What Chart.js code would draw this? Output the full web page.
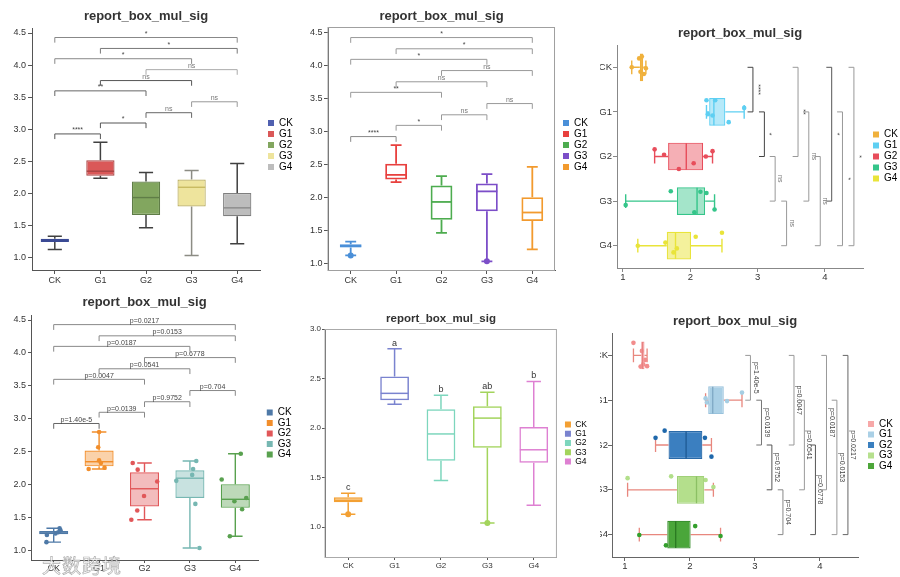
<!DOCTYPE html>
<html>
<head>
<meta charset="utf-8">
<script src="https://cdn.jsdelivr.net/npm/chart.js@4.4.1/dist/chart.umd.min.js"></script>
<style>
  body { margin: 0; background: #fff; width: 900px; height: 577px; overflow: hidden; position: relative; }
  .panel { position: absolute; }
  .watermark { position: absolute; left: 42px; top: 551px; font: 19px "Noto Sans CJK SC", sans-serif;
    color: rgba(255,255,255,0.8); -webkit-text-stroke: 0.7px rgba(110,110,110,0.55); letter-spacing: 1px; }
</style>
</head>
<body>
<div class="panel" style="left:0;top:0"><canvas id="c1" width="300" height="290"></canvas></div>
<div class="panel" style="left:300px;top:0"><canvas id="c2" width="300" height="290"></canvas></div>
<div class="panel" style="left:600px;top:0"><canvas id="c3" width="300" height="290"></canvas></div>
<div class="panel" style="left:0;top:290px"><canvas id="c4" width="300" height="287"></canvas></div>
<div class="panel" style="left:300px;top:290px"><canvas id="c5" width="300" height="287"></canvas></div>
<div class="panel" style="left:600px;top:290px"><canvas id="c6" width="300" height="287"></canvas></div>
<div class="watermark">大数跨境</div>
<script>
  // DATA
  const categories = ['CK', 'G1', 'G2', 'G3', 'G4'];
  // box statistics
  const whiskerLow = [1.13, 2.24, 1.47, 1.04, 1.22];
  const quartile1 = [1.25, 2.28, 1.67, 1.80, 1.65];
  const medians = [1.27, 2.35, 1.94, 2.10, 1.78];
  const quartile3 = [1.30, 2.52, 2.19, 2.22, 2.01];
  const whiskerHigh = [1.34, 2.80, 2.33, 2.36, 2.47];
  // raw samples, 6 per group
  const samplesCK = [1.13, 1.24, 1.26, 1.28, 1.31, 1.34];
  const samplesG1 = [2.24, 2.26, 2.33, 2.37, 2.57, 2.80];
  const samplesG2 = [1.47, 1.61, 1.83, 2.05, 2.23, 2.33];
  const samplesG3 = [1.04, 1.71, 2.06, 2.15, 2.24, 2.36];
  const samplesG4 = [1.22, 1.63, 1.75, 1.80, 2.08, 2.47];
  const outlierGroups = [0, 3];
  const outlierValues = [1.13, 1.04];
  // pairwise comparisons
  const pairs = [[0, 1], [1, 2], [2, 3], [3, 4], [0, 2], [1, 3], [2, 4], [0, 3], [1, 4], [0, 4]];
  const pairStars = ['****', '*', 'ns', 'ns', '**', 'ns', 'ns', '*', '*', '*'];
  const pairPValues = ['p=1.40e-5', 'p=0.0139', 'p=0.9752', 'p=0.704', 'p=0.0047', 'p=0.0541', 'p=0.6778', 'p=0.0187', 'p=0.0153', 'p=0.0217'];
  const bracketLevels = [2.93, 3.10, 3.26, 3.43, 3.60, 3.76, 3.93, 4.10, 4.26, 4.43];
  const bracketTip = 0.08;
  const groupLetters = ['c', 'a', 'b', 'ab', 'b'];
  // tick labels
  const ticksTall = [1.0, 1.5, 2.0, 2.5, 3.0, 3.5, 4.0, 4.5];
  const ticksShort = [1.0, 1.5, 2.0, 2.5, 3.0];
  const ticksHoriz = [1, 2, 3, 4];
  // jitter of the dots (category units), same order as the samples
  const jitterP3 = [[0, -0.2, 0.1, -0.24, 0.15, 0.02], [-0.26, 0.05, 0.08, -0.26, 0.23, -0.09], [-0.16, -0.04, 0.28, 0.15, 0, -0.12], [0.09, -0.22, 0.25, -0.21, -0.18, 0.19], [0, -0.07, 0.15, 0.06, -0.2, -0.29]];
  const jitterP4 = [[-0.16, -0.15, 0.04, 0.1, 0.15, 0.13], [-0.23, 0.12, 0.04, 0, -0.02, 0], [-0.29, -0.16, -0.01, 0.28, -0.15, -0.26], [0.21, 0.12, -0.3, 0.05, 0.07, 0.14], [-0.12, 0.15, -0.02, 0.24, -0.3, 0.12]];
  const jitterP6 = [[-0.28, 0.25, -0.1, 0.2, 0.1, 0.24], [-0.04, 0.05, 0.1, -0.05, 0.02, -0.17], [-0.16, -0.32, -0.04, 0.06, -0.16, 0.26], [-0.26, -0.3, -0.06, -0.23, -0.22, -0.06], [0.01, 0.24, -0.04, 0.09, -0.19, 0.03]];

  const sampleSets = [samplesCK, samplesG1, samplesG2, samplesG3, samplesG4];
  const FONT = '"Liberation Sans", Arial, Helvetica, sans-serif';
  Chart.defaults.font.family = FONT;

  function seg(ctx, horiz, p1, v1, p2, v2) {
    if (horiz) { ctx.moveTo(v1, p1); ctx.lineTo(v2, p2); }
    else { ctx.moveTo(p1, v1); ctx.lineTo(p2, v2); }
  }

  // whiskers, medians, brackets and letters, all placed through the chart scales
  function extrasFor(p) {
    const horiz = !!p.horizontal;
    return {
      id: 'boxExtras',
      beforeDatasetsDraw(chart) {
        const ctx = chart.ctx, a = chart.chartArea;
        const vs = chart.scales[horiz ? 'x' : 'y'];
        ctx.save();
        if (p.frame) {
          ctx.strokeStyle = p.frame; ctx.lineWidth = 1;
          ctx.strokeRect(a.left, a.top + 0.5, a.right - a.left - 0.5, a.bottom - a.top);
        }
        chart.getDatasetMeta(0).data.forEach((bar, i) => {
          const c = horiz ? bar.y : bar.x;
          const half = (horiz ? bar.height : bar.width) * 0.25;
          const lo = vs.getPixelForValue(whiskerLow[i]), q1 = vs.getPixelForValue(quartile1[i]);
          const q3 = vs.getPixelForValue(quartile3[i]), hi = vs.getPixelForValue(whiskerHigh[i]);
          ctx.strokeStyle = p.whisker[i]; ctx.lineWidth = p.whiskerWidth;
          ctx.beginPath();
          seg(ctx, horiz, c, lo, c, q1);
          seg(ctx, horiz, c, q3, c, hi);
          seg(ctx, horiz, c - half, lo, c + half, lo);
          seg(ctx, horiz, c - half, hi, c + half, hi);
          ctx.stroke();
        });
        ctx.restore();
      },
      afterDatasetDraw(chart, args) {
        if (args.index !== 0) return;
        const ctx = chart.ctx;
        const vs = chart.scales[horiz ? 'x' : 'y'];
        ctx.save();
        chart.getDatasetMeta(0).data.forEach((bar, i) => {
          const c = horiz ? bar.y : bar.x;
          const half = (horiz ? bar.height : bar.width) / 2 - 0.5;
          const m = vs.getPixelForValue(medians[i]);
          ctx.strokeStyle = p.median[i]; ctx.lineWidth = p.medianWidth;
          ctx.beginPath();
          seg(ctx, horiz, c - half, m, c + half, m);
          ctx.stroke();
        });
        ctx.restore();
      },
      afterDatasetsDraw(chart) {
        const ctx = chart.ctx;
        const vs = chart.scales[horiz ? 'x' : 'y'];
        const cs = chart.scales[horiz ? 'y' : 'x'];
        ctx.save();
        if (p.brackets) {
          ctx.font = p.bracketFont + 'px ' + FONT;
          pairs.forEach(([i, j], k) => {
            const ci = cs.getPixelForValue(i), cj = cs.getPixelForValue(j);
            const lv = vs.getPixelForValue(bracketLevels[k]);
            const tv = vs.getPixelForValue(bracketLevels[k] - bracketTip);
            ctx.strokeStyle = p.bracketColors[k]; ctx.lineWidth = 1;
            ctx.beginPath();
            seg(ctx, horiz, ci, tv, ci, lv);
            seg(ctx, horiz, ci, lv, cj, lv);
            seg(ctx, horiz, cj, lv, cj, tv);
            ctx.stroke();
            ctx.fillStyle = p.brackets[k] === 'ns' ? '#777' : '#444';
            ctx.textAlign = 'center'; ctx.textBaseline = 'bottom';
            if (horiz) {
              ctx.save();
              ctx.translate(lv + 1.5, (ci + cj) / 2);
              ctx.rotate(Math.PI / 2);
              ctx.fillText(p.brackets[k], 0, 0);
              ctx.restore();
            } else {
              ctx.fillText(p.brackets[k], (ci + cj) / 2, lv);
            }
          });
        }
        if (p.letters) {
          ctx.font = '9px ' + FONT; ctx.fillStyle = '#333';
          ctx.textAlign = 'center'; ctx.textBaseline = 'bottom';
          p.letters.forEach((t, i) => {
            ctx.fillText(t, cs.getPixelForValue(i), vs.getPixelForValue(whiskerHigh[i]) - 1);
          });
        }
        ctx.restore();
      }
    };
  }

  function dotData(jitter, horiz) {
    const pts = [];
    sampleSets.forEach((vals, g) => vals.forEach((v, k) => {
      pts.push(horiz ? {x: v, y: g + jitter[g][k]} : {x: g + jitter[g][k], y: v});
    }));
    return pts;
  }
  function dotColors(colors) {
    const out = [];
    sampleSets.forEach((vals, g) => vals.forEach(() => out.push(colors[g])));
    return out;
  }

  function makePanel(id, p) {
    const horiz = !!p.horizontal;
    const tickFont = {size: p.tickSize, family: FONT};
    const catScale = {
      type: 'category', labels: categories, offset: true,
      grid: {offset: false, drawOnChartArea: false, tickLength: p.tickLen, color: p.axis},
      border: {color: p.axis, width: 1},
      ticks: {font: tickFont, color: '#333', padding: p.catPad, autoSkip: false, maxRotation: 0}
    };
    const valScale = {
      type: 'linear', min: p.vMin, max: p.vMax, offset: false,
      grid: {offset: false, drawOnChartArea: false, tickLength: p.tickLen, color: p.axis},
      border: {color: p.axis, width: 1},
      ticks: {font: tickFont, color: '#333', padding: p.valPad, callback: v => horiz ? String(v) : v.toFixed(1)},
      afterBuildTicks: s => { s.ticks = p.vTicks.map(v => ({value: v})); }
    };
    // hidden axis used to spread the dots around each category
    const jitterScale = {type: 'linear', min: -0.5, max: 4.5, offset: false, display: false};
    let scales;
    if (horiz) {
      catScale.position = 'left';
      catScale.afterFit = s => { s.width = p.axisW; };
      valScale.position = 'bottom';
      valScale.afterFit = s => { s.height = p.axisH; };
      scales = {y: catScale, x: valScale, yj: Object.assign({axis: 'y', reverse: true}, jitterScale)};
    } else {
      catScale.position = 'bottom';
      catScale.afterFit = s => { s.height = p.axisH; };
      valScale.position = 'left';
      valScale.afterFit = s => { s.width = p.axisW; };
      scales = {x: catScale, y: valScale, xj: Object.assign({axis: 'x'}, jitterScale)};
    }
    scales.gap = {type: 'linear', position: 'right', axis: 'y', offset: false, grid: {display: false}, border: {display: false},
      ticks: {display: false}, afterFit: s => { s.width = p.gap; }};

    const datasets = [{
      type: 'bar',
      data: categories.map((c, i) => [quartile1[i], quartile3[i]]),
      backgroundColor: p.fill,
      borderColor: p.border,
      borderWidth: p.boxLine,
      borderSkipped: false,
      grouped: false,
      barPercentage: p.boxWidth,
      categoryPercentage: 1,
      xAxisID: 'x', yAxisID: 'y'
    }];
    if (p.jitter) {
      datasets.push({
        type: 'scatter',
        data: dotData(p.jitter, horiz),
        pointBackgroundColor: dotColors(p.dots),
        pointBorderWidth: 0,
        pointRadius: 2.3,
        xAxisID: horiz ? 'x' : 'xj', yAxisID: horiz ? 'yj' : 'y'
      });
    }
    if (p.outliers) {
      datasets.push({
        type: 'scatter',
        data: outlierGroups.map((g, k) => ({x: g, y: outlierValues[k]})),
        pointBackgroundColor: outlierGroups.map(g => p.border[g]),
        pointBorderWidth: 0,
        pointRadius: 3,
        xAxisID: 'xj', yAxisID: 'y'
      });
    }

    return new Chart(document.getElementById(id), {
      type: 'bar',
      data: {labels: categories, datasets: datasets},
      options: {
        responsive: false,
        animation: false,
        events: [],
        indexAxis: horiz ? 'y' : 'x',
        layout: {padding: {left: 0, right: p.padR, top: 0, bottom: 0}},
        scales: scales,
        plugins: {
          title: {
            display: true, fullSize: false, text: 'report_box_mul_sig', color: '#333',
            font: {size: p.titleSize, weight: 'bold', family: FONT},
            padding: {top: p.titleTop, bottom: p.titleBottom}
          },
          legend: {
            position: 'right', align: 'center', fullSize: p.legendFull,
            labels: {
              boxWidth: 6, boxHeight: 6, padding: p.legendPad, color: '#444',
              font: {size: p.legendFont, family: FONT},
              generateLabels: () => categories.map((c, i) => ({
                text: c, fillStyle: p.legend[i], strokeStyle: p.legend[i], lineWidth: 0, hidden: false, index: i
              }))
            }
          },
          tooltip: {enabled: false}
        }
      },
      plugins: [extrasFor(p)]
    });
  }

  // PANEL 1 - filled boxes, star brackets
  makePanel('c1', {
    padR: -2.9, axisW: 32, axisH: 20, gap: 7, legendFull: true, legendFont: 10, legendPad: 1,
    titleSize: 13, titleTop: 8.2, titleBottom: 4.2,
    vMin: 0.813, vMax: 4.578, vTicks: ticksTall, tickSize: 9, tickLen: 4, catPad: 1, valPad: 2, axis: '#555',
    boxWidth: 0.62, boxLine: 1.2, whiskerWidth: 1.5, medianWidth: 1.4,
    fill: ['#5060b0', '#da5858', '#82a65f', '#eee49d', '#bdbdbd'],
    border: ['#3b4a94', '#a84444', '#5f7d47', '#b9ad5f', '#7f7f7f'],
    legend: ['#5060b0', '#da5858', '#82a65f', '#eee49d', '#bdbdbd'],
    whisker: ['#404040', '#404040', '#404040', '#8c8c84', '#404040'],
    median: ['#3b4a94', '#a84444', '#5f7d47', '#c9bb62', '#8a8a8a'],
    brackets: pairStars, bracketFont: 7,
    bracketColors: ['#555', '#555', '#666', '#999', '#666', '#555', '#aaa', '#888', '#777', '#888']
  });

  // PANEL 2 - outlined boxes in a frame
  makePanel('c2', {
    padR: 2.1, axisW: 28, axisH: 20, gap: 7, legendFull: true, legendFont: 10, legendPad: 1,
    titleSize: 13, titleTop: 8.2, titleBottom: 3.2,
    vMin: 0.909, vMax: 4.59, vTicks: ticksTall, tickSize: 9, tickLen: 4, catPad: 1, valPad: 1.5, axis: '#555',
    boxWidth: 0.48, boxLine: 1.8, whiskerWidth: 1.8, medianWidth: 1.8, frame: '#a0a0a0', outliers: true,
    fill: ['rgba(74,143,216,0.35)', 'rgba(255,255,255,0)', 'rgba(255,255,255,0)', 'rgba(255,255,255,0)', 'rgba(255,255,255,0)'],
    border: ['#4a8fd8', '#e8403e', '#4dac4f', '#7c4ec8', '#f29a2e'],
    legend: ['#4a8fd8', '#e8403e', '#4dac4f', '#7c4ec8', '#f29a2e'],
    whisker: ['#4a8fd8', '#e8403e', '#4dac4f', '#7c4ec8', '#f29a2e'],
    median: ['#4a8fd8', '#e8403e', '#4dac4f', '#7c4ec8', '#f29a2e'],
    brackets: pairStars, bracketFont: 7,
    bracketColors: ['#888', '#999', '#999', '#999', '#999', '#999', '#999', '#999', '#999', '#999']
  });

  // PANEL 3 - horizontal boxes with dots
  makePanel('c3', {
    horizontal: true,
    padR: -7.9, axisW: 17, axisH: 22, gap: 9, legendFull: false, legendFont: 10, legendPad: 1,
    titleSize: 13, titleTop: 25.2, titleBottom: 4.2,
    vMin: 0.911, vMax: 4.565, vTicks: ticksHoriz, tickSize: 9.5, tickLen: 4, catPad: 1, valPad: 0, axis: '#888',
    boxWidth: 0.62, boxLine: 1.2, whiskerWidth: 1.4, medianWidth: 1.4,
    fill: ['rgba(240,177,60,0.5)', 'rgba(94,207,242,0.45)', 'rgba(232,77,91,0.45)', 'rgba(53,197,138,0.45)', 'rgba(233,228,58,0.5)'],
    border: ['#f0b13c', '#5ecff2', '#e84d5b', '#35c58a', '#e9e43a'],
    legend: ['#f0b13c', '#5ecff2', '#e84d5b', '#35c58a', '#e9e43a'],
    whisker: ['#f0b13c', '#5ecff2', '#e84d5b', '#35c58a', '#e9e43a'],
    median: ['#f0b13c', '#5ecff2', '#e84d5b', '#35c58a', '#e9e43a'],
    jitter: jitterP3, dots: ['#f0b13c', '#5ecff2', '#e84d5b', '#35c58a', '#e9e43a'],
    brackets: pairStars, bracketFont: 7,
    bracketColors: ['#444', '#444', '#999', '#999', '#999', '#999', '#999', '#555', '#999', '#999']
  });

  // PANEL 4 - vertical boxes with dots and p-values
  makePanel('c4', {
    padR: -1.6, axisW: 31, axisH: 17, gap: 8.2, legendFull: true, legendFont: 10, legendPad: 0.5,
    titleSize: 13, titleTop: 4.2, titleBottom: 5.2,
    vMin: 0.859, vMax: 4.576, vTicks: ticksTall, tickSize: 9, tickLen: 3, catPad: 0, valPad: 2, axis: '#555',
    boxWidth: 0.64, boxLine: 1.2, whiskerWidth: 1.4, medianWidth: 1.4,
    fill: ['rgba(78,121,167,0.45)', 'rgba(242,142,43,0.4)', 'rgba(225,87,89,0.4)', 'rgba(118,183,178,0.4)', 'rgba(89,161,79,0.4)'],
    border: ['#4e79a7', '#f28e2b', '#e15759', '#76b7b2', '#59a14f'],
    legend: ['#4e79a7', '#f28e2b', '#e15759', '#76b7b2', '#59a14f'],
    whisker: ['#4e79a7', '#f28e2b', '#e15759', '#76b7b2', '#59a14f'],
    median: ['#4e79a7', '#f28e2b', '#e15759', '#76b7b2', '#59a14f'],
    jitter: jitterP4, dots: ['#4e79a7', '#f28e2b', '#e15759', '#76b7b2', '#59a14f'],
    brackets: pairPValues, bracketFont: 7,
    bracketColors: ['#666', '#888', '#888', '#888', '#888', '#888', '#888', '#888', '#888', '#888']
  });

  // PANEL 5 - letters of significance
  makePanel('c5', {
    padR: 3, axisW: 25, axisH: 20, gap: 7.3, legendFull: false, legendFont: 8.5, legendPad: 0.7,
    titleSize: 11.5, titleTop: 22.1, titleBottom: 3.1,
    vMin: 0.697, vMax: 3.0, vTicks: ticksShort, tickSize: 8, tickLen: 3, catPad: 1, valPad: 1, axis: '#555',
    boxWidth: 0.62, boxLine: 1.5, whiskerWidth: 1.5, medianWidth: 1.5, frame: '#aaa', outliers: true,
    fill: ['rgba(243,160,51,0.35)', 'rgba(255,255,255,0)', 'rgba(255,255,255,0)', 'rgba(255,255,255,0)', 'rgba(255,255,255,0)'],
    border: ['#f3a033', '#7a83cf', '#7dd6bd', '#a3d45c', '#de80d2'],
    legend: ['#f3a033', '#7a83cf', '#7dd6bd', '#a3d45c', '#de80d2'],
    whisker: ['#f3a033', '#7a83cf', '#7dd6bd', '#a3d45c', '#de80d2'],
    median: ['#f3a033', '#7a83cf', '#7dd6bd', '#a3d45c', '#de80d2'],
    letters: groupLetters
  });

  // PANEL 6 - horizontal boxes with rotated p-values
  makePanel('c6', {
    horizontal: true,
    padR: -2.9, axisW: 12, axisH: 20, gap: 9.5, legendFull: false, legendFont: 10, legendPad: 0.5,
    titleSize: 13, titleTop: 23.2, titleBottom: 4.2,
    vMin: 0.8, vMax: 4.585, vTicks: ticksHoriz, tickSize: 9.5, tickLen: 4, catPad: 0, valPad: 0, axis: '#666',
    boxWidth: 0.62, boxLine: 1.2, whiskerWidth: 1.3, medianWidth: 1.3,
    fill: ['#f8b4b4', '#a9cfe5', '#3b7fc0', '#b4df8c', '#4aa63a'],
    border: ['#f09595', '#98c2dc', '#2a6aa8', '#a0d078', '#3a9030'],
    legend: ['#f7a8a8', '#aad0e6', '#3a7fbf', '#b6e08e', '#4da63a'],
    whisker: ['#e8877e', '#e8877e', '#e8877e', '#e8877e', '#e8877e'],
    median: ['#e88080', '#7fa8c4', '#1e5a94', '#8cc064', '#2a7a22'],
    jitter: jitterP6, dots: ['#f28c8c', '#a6cee3', '#1f68ab', '#b2df8a', '#33a02c'],
    brackets: pairPValues, bracketFont: 7,
    bracketColors: ['#999', '#777', '#555', '#888', '#999', '#999', '#555', '#999', '#999', '#666']
  });
</script>
</body>
</html>
